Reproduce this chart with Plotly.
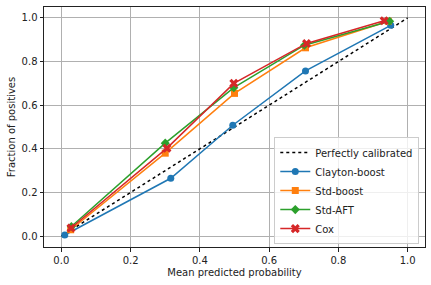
import plotly.graph_objects as go

series_names = ["Clayton-boost", "Std-boost", "Std-AFT", "Cox"]
colors = ["#1f77b4", "#ff7f0e", "#2ca02c", "#d62728"]
symbols = ["circle", "square", "diamond", "x"]

clayton_x = [0.010, 0.316, 0.495, 0.705, 0.951]
clayton_y = [0.005, 0.265, 0.508, 0.757, 0.966]
stdboost_x = [0.027, 0.300, 0.500, 0.705, 0.944]
stdboost_y = [0.029, 0.380, 0.654, 0.863, 0.985]
stdaft_x = [0.029, 0.300, 0.498, 0.702, 0.948]
stdaft_y = [0.044, 0.426, 0.680, 0.875, 0.985]
cox_x = [0.028, 0.305, 0.498, 0.708, 0.932]
cox_y = [0.037, 0.403, 0.700, 0.883, 0.987]

perfect_x = [0, 1]
perfect_y = [0, 1]

tick_vals = [0.0, 0.2, 0.4, 0.6, 0.8, 1.0]
tick_text = ["0.0", "0.2", "0.4", "0.6", "0.8", "1.0"]

fig = go.Figure()
fig.add_trace(go.Scatter(x=perfect_x, y=perfect_y, mode="lines",
                         line=dict(color="black", dash="dot", width=1.5),
                         name="Perfectly calibrated"))
data = [(clayton_x, clayton_y), (stdboost_x, stdboost_y), (stdaft_x, stdaft_y), (cox_x, cox_y)]
for (xs, ys), name, c, s in zip(data, series_names, colors, symbols):
    fig.add_trace(go.Scatter(x=xs, y=ys, mode="lines+markers", name=name,
                             line=dict(color=c, width=1.5),
                             marker=dict(symbol=s, size=7 if s != "x" else 8, color=c,
                                         line=dict(width=0))))

axis_common = dict(
    tickvals=tick_vals, ticktext=tick_text, range=[-0.05, 1.05],
    showgrid=True, gridcolor="#b0b0b0", gridwidth=0.8,
    showline=True, mirror=True, linecolor="#222", linewidth=1,
    ticks="outside", ticklen=3.5, tickcolor="#222", zeroline=False,
    automargin=False,
    tickfont=dict(family="DejaVu Sans", size=10, color="#222"),
)

fig.update_layout(
    width=431, height=285,
    margin=dict(l=44, r=6, t=7, b=38),
    plot_bgcolor="white", paper_bgcolor="white",
    font=dict(family="DejaVu Sans", size=10, color="#222"),
    xaxis=dict(title=dict(text="Mean predicted probability", standoff=4,
                          font=dict(size=10)), **axis_common),
    yaxis=dict(title=dict(text="Fraction of positives", standoff=4,
                          font=dict(size=10)), **axis_common),
    legend=dict(x=0.985, y=0.012, xanchor="right", yanchor="bottom",
                bgcolor="rgba(255,255,255,0.8)", bordercolor="#cccccc", borderwidth=1,
                font=dict(family="DejaVu Sans", size=10, color="#222"),
                tracegroupgap=0, itemwidth=30),
    showlegend=True,
)

fig.write_html("out.html", config={"displayModeBar": False},
               post_script="document.body.style.margin='0';")
